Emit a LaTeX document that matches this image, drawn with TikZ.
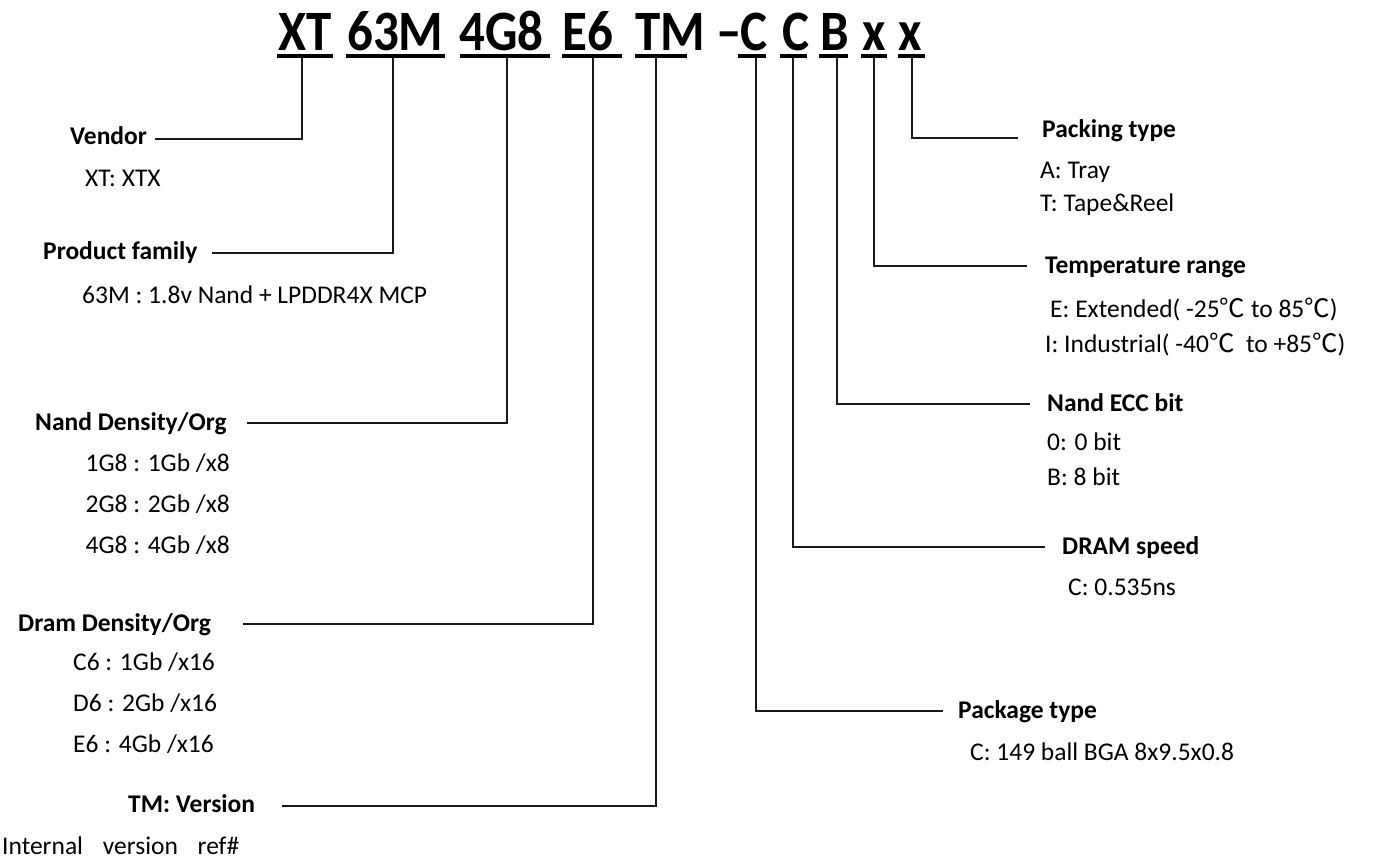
\documentclass[tikz,border=0pt]{standalone}
\usepackage{fontspec}
\setmainfont{Carlito}
\newfontfamily\cjk{Noto Sans CJK SC}
\newcommand{\degc}{{\cjk ℃}}
\newcommand{\tallcode}[1]{\scalebox{1}[1.12]{#1}}

\begin{document}
\begin{tikzpicture}[x=1pt,y=-1pt,
    code/.style={anchor=base west,inner sep=0pt,font=\fontsize{51}{51}\selectfont\bfseries},
    head/.style={anchor=base west,inner sep=0pt,font=\fontsize{25.5}{30}\selectfont\bfseries},
    item/.style={anchor=base west,inner sep=0pt,font=\fontsize{25.5}{30}\selectfont},
    uline/.style={line width=4pt},
    wire/.style={line width=1.4pt,black!90}]

\useasboundingbox (0,0) rectangle (1375,863);

% part number
\node[code] (xt) at (278,50) {\tallcode{XT}};
\node[code] (famc) at (347,50) {\tallcode{63M}};
\node[code] (nandc) at (459,50) {\tallcode{4G8}};
\node[code] (dramc) at (562,50) {\tallcode{E6}};
\node[code] (verc) at (635,50) {\tallcode{TM}};
\node[code] (dash) at (716,50) {\tallcode{–}};
\node[code] (pkgc) at (740,50) {\tallcode{C}};
\node[code] (speedc) at (782,50) {\tallcode{C}};
\node[code] (eccc) at (820,50) {\tallcode{B}};
\node[code] (tempc) at (862,50) {\tallcode{x}};
\node[code] (packc) at (898,50) {\tallcode{x}};

\draw[uline] (277,56) -- (333,56);
\draw[uline] (346,56) -- (445,56);
\draw[uline] (460,56) -- (550,56);
\draw[uline] (562,56) -- (622,56);
\draw[uline] (635,56) -- (687,56);
\draw[uline] (738,56) -- (766,56);
\draw[uline] (780,56) -- (807,56);
\draw[uline] (819,56) -- (848,56);
\draw[uline] (861,56) -- (887,56);
\draw[uline] (898,56) -- (925,56);

% left side
\node[head] (vendor) at (70,144) {Vendor};
\node[item] (vendor1) at (85,186) {XT: XTX};

\node[head] (family) at (43,259) {Product family};
\node[item] (family1) at (82,303) {63M : 1.8v Nand + LPDDR4X MCP};

\node[head] (nandhd) at (35,430) {Nand Density/Org};
\node[item,anchor=base east] (nand1) at (230,471) {1G8 : 1Gb /x8};
\node[item,anchor=base east] (nand2) at (230,512) {2G8 : 2Gb /x8};
\node[item,anchor=base east] (nand3) at (230,553) {4G8 : 4Gb /x8};

\node[head] (dramhd) at (18,631) {Dram Density/Org};
\node[item] (dram1) at (73,670) {C6 : 1Gb /x16};
\node[item] (dram2) at (73,711) {D6 : 2Gb /x16};
\node[item] (dram3) at (73,752) {E6 : 4Gb /x16};

\node[head] (version) at (128,812) {TM: Version};
\node[item] (version1) at (2,854) {Internal\hspace{14pt} version\hspace{14pt} ref\#};

% right side
\node[head] (packing) at (1042,137) {Packing type};
\node[item] (packing1) at (1040,178) {A: Tray};
\node[item] (packing2) at (1040,211) {T: Tape\&Reel};

\node[head] (temp) at (1045,273) {Temperature range};
\node[item] (temp1) at (1050,317) {E: Extended( -25\degc\ to 85\degc)};
\node[item] (temp2) at (1045,352) {I: Industrial( -40\degc\ \ to +85\degc)};

\node[head] (ecc) at (1047,411) {Nand ECC bit};
\node[item] (ecc1) at (1047,450) {0: 0 bit};
\node[item] (ecc2) at (1047,485) {B: 8 bit};

\node[head] (speed) at (1062,554) {DRAM speed};
\node[item] (speed1) at (1068,595) {C: 0.535ns};

\node[head] (package) at (958,718) {Package type};
\node[item] (package1) at (970,760) {C: 149 ball BGA 8x9.5x0.8};

% connectors
\coordinate (xt-d) at (302,58);
\coordinate (famc-d) at (393,58);
\coordinate (nandc-d) at (507,58);
\coordinate (dramc-d) at (593,58);
\coordinate (verc-d) at (656,58);
\coordinate (pkgc-d) at (756,58);
\coordinate (speedc-d) at (793,58);
\coordinate (eccc-d) at (837,58);
\coordinate (tempc-d) at (874,58);
\coordinate (packc-d) at (912,58);

\coordinate (vendor-e) at (155,139);
\coordinate (family-e) at (212,253);
\coordinate (nandhd-e) at (247,423);
\coordinate (dramhd-e) at (243,624);
\coordinate (version-e) at (282,806);
\coordinate (packing-w) at (1018,138);
\coordinate (temp-w) at (1027,266);
\coordinate (ecc-w) at (1030,404);
\coordinate (speed-w) at (1045,547);
\coordinate (package-w) at (943,711);

\draw[wire] (xt-d) |- (vendor-e);
\draw[wire] (famc-d) |- (family-e);
\draw[wire] (nandc-d) |- (nandhd-e);
\draw[wire] (dramc-d) |- (dramhd-e);
\draw[wire] (verc-d) |- (version-e);
\draw[wire] (packc-d) |- (packing-w);
\draw[wire] (tempc-d) |- (temp-w);
\draw[wire] (eccc-d) |- (ecc-w);
\draw[wire] (speedc-d) |- (speed-w);
\draw[wire] (pkgc-d) |- (package-w);
\end{tikzpicture}
\end{document}
